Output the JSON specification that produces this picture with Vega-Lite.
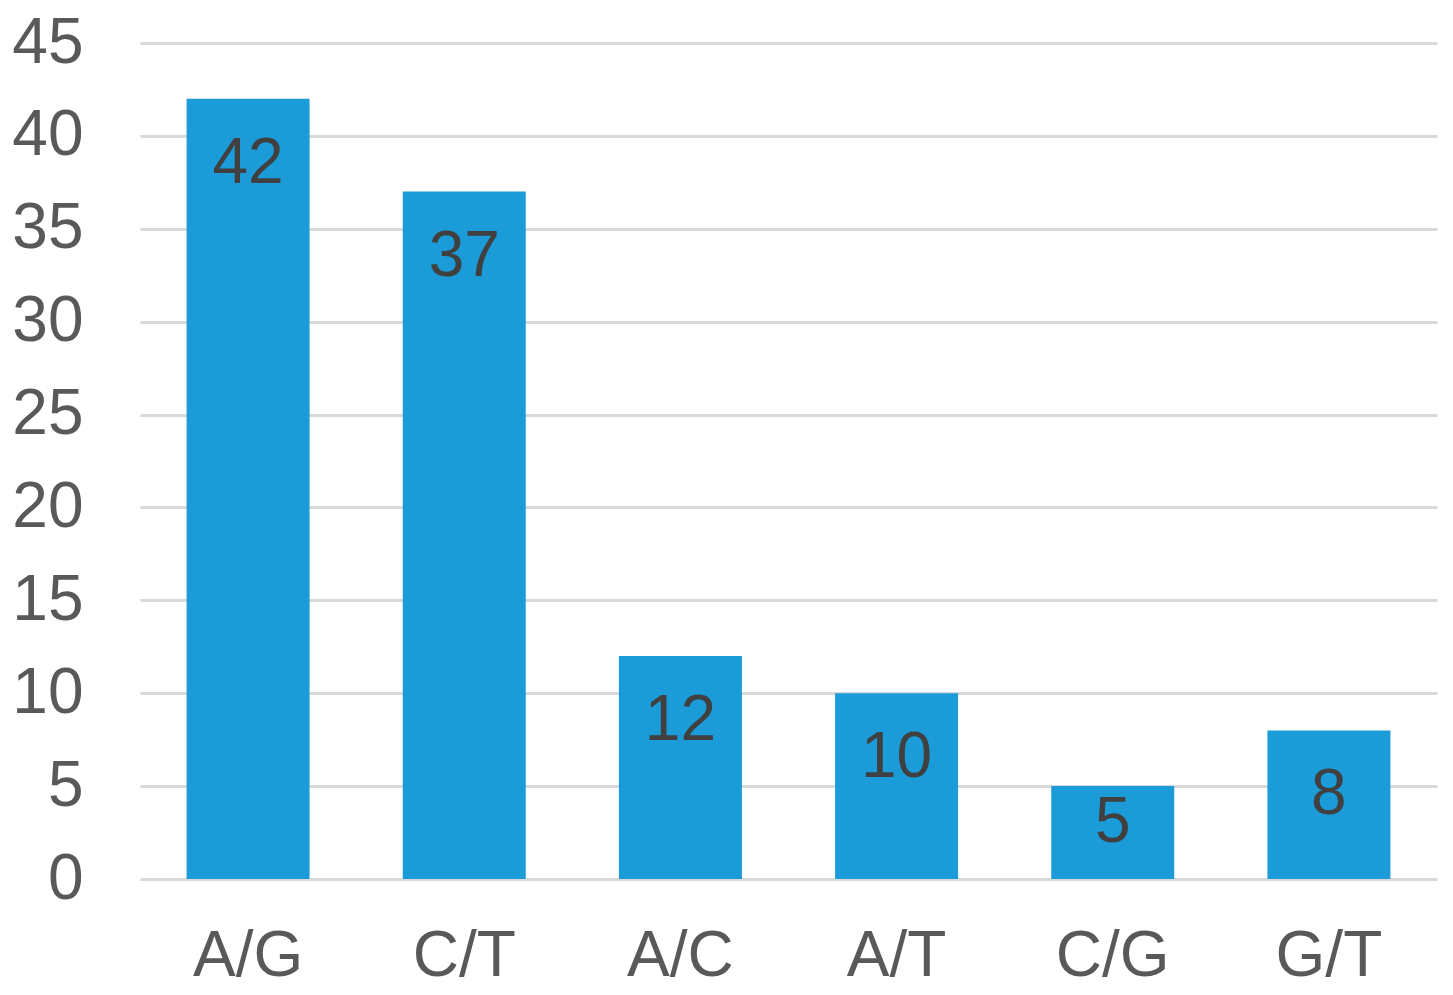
{
  "$schema": "https://vega.github.io/schema/vega-lite/v6.json",
  "width": 1297,
  "height": 836,
  "autosize": "none",
  "padding": {"left": 140, "top": 43, "right": 16, "bottom": 116},
  "background": "white",
  "config": {
    "view": {"stroke": null},
    "font": "Liberation Sans"
  },
  "data": {
    "values": [
      {"type": "A/G", "count": 42},
      {"type": "C/T", "count": 37},
      {"type": "A/C", "count": 12},
      {"type": "A/T", "count": 10},
      {"type": "C/G", "count": 5},
      {"type": "G/T", "count": 8}
    ]
  },
  "encoding": {
    "x": {
      "field": "type",
      "type": "nominal",
      "sort": null,
      "scale": {"paddingInner": 0.431, "paddingOuter": 0.2155},
      "axis": {
        "title": null,
        "labelAngle": 0,
        "labelFontSize": 64,
        "labelColor": "#595959",
        "labelFont": "Liberation Sans",
        "labelPadding": 45,
        "ticks": false,
        "domain": false
      }
    },
    "y": {
      "field": "count",
      "type": "quantitative",
      "scale": {"domain": [0, 45], "nice": false},
      "axis": {
        "title": null,
        "values": [0, 5, 10, 15, 20, 25, 30, 35, 40, 45],
        "labelFontSize": 64,
        "labelColor": "#595959",
        "labelFont": "Liberation Sans",
        "labelPadding": 57,
        "ticks": false,
        "domain": false,
        "gridColor": "#D9D9D9",
        "gridWidth": 3
      }
    }
  },
  "layer": [
    {"mark": {"type": "bar", "color": "#1B9BD7"}},
    {
      "transform": [{"filter": "datum.count >= 8"}],
      "mark": {"type": "text", "fontSize": 64, "color": "#404040", "baseline": "alphabetic", "dy": 84, "font": "Liberation Sans"},
      "encoding": {"text": {"field": "count", "type": "quantitative"}}
    },
    {
      "transform": [{"filter": "datum.count < 8"}],
      "mark": {"type": "text", "fontSize": 64, "color": "#404040", "baseline": "alphabetic", "dy": 56, "font": "Liberation Sans"},
      "encoding": {"text": {"field": "count", "type": "quantitative"}}
    }
  ]
}
